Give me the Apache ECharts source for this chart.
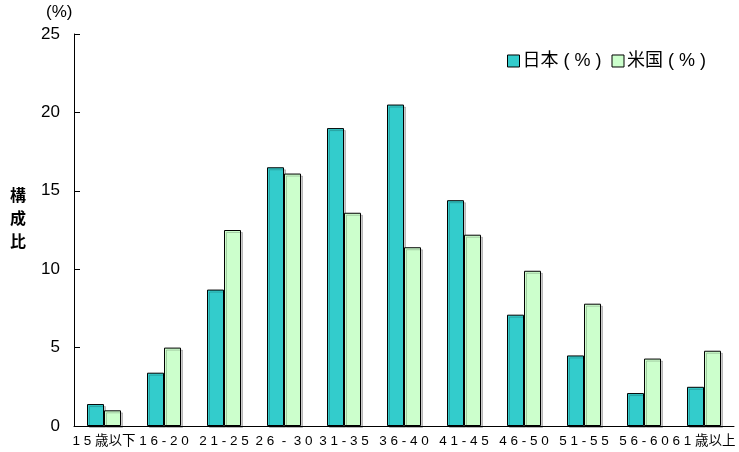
<!DOCTYPE html>
<html><head><meta charset="utf-8">
<script src="https://cdn.jsdelivr.net/npm/echarts@6/dist/echarts.min.js"></script>
<style>html,body{margin:0;padding:0;background:#fff}#c{width:739px;height:452px}</style>
</head><body><div id="c"></div>
<script>
const categories = ['1 5 歳以下', '1 6 - 2 0', '2 1 - 2 5', '2 6  -  3 0', '3 1 - 3 5', '3 6 - 4 0', '4 1 - 4 5', '4 6 - 5 0', '5 1 - 5 5', '5 6 - 6 0', '6 1 歳以上'];
const japan = [1.4, 3.4, 8.7, 16.5, 19.0, 20.5, 14.4, 7.1, 4.5, 2.1, 2.5];
const usa = [1.0, 5.0, 12.5, 16.1, 13.6, 11.4, 12.2, 9.9, 7.8, 4.3, 4.8];
const seriesNames = ['日本 ( % )', '米国 ( % )'];
const yTicks = [0, 5, 10, 15, 20, 25];

const font = 'Arial, "Liberation Sans", "Noto Sans CJK JP", sans-serif';
const chart = echarts.init(document.getElementById('c'));
const barStyle = c => ({color: c, borderColor: '#000', borderWidth: 1, shadowColor: 'rgba(0,0,0,0.2)', shadowOffsetX: 2, shadowOffsetY: 2, shadowBlur: 0});
chart.setOption({
  animation: false,
  grid: {left: 74, right: 5, top: 34, bottom: 26, containLabel: false},
  legend: {
    right: 28, top: 47, itemWidth: 12, itemHeight: 12, itemGap: 10, icon: 'rect',
    textStyle: {fontFamily: font, fontSize: 18, color: '#000', padding: [0, 0, 0, -2]},
    data: seriesNames.map(n => ({name: n, itemStyle: {borderColor: '#000', borderWidth: 1}}))
  },
  xAxis: {
    type: 'category', data: categories,
    axisLine: {lineStyle: {color: '#000', width: 1}},
    axisTick: {show: false},
    axisLabel: {interval: 0, color: '#000', fontFamily: font, fontSize: 13.5, margin: 9}
  },
  yAxis: {
    type: 'value', min: yTicks[0], max: yTicks[yTicks.length - 1], interval: 5,
    splitLine: {show: false},
    axisLine: {show: true, lineStyle: {color: '#000', width: 1}},
    axisTick: {show: true, inside: true, length: 6, lineStyle: {color: '#000'}},
    axisLabel: {color: '#000', fontFamily: font, fontSize: 17, margin: 14}
  },
  graphic: [
    {type: 'text', left: 46, top: 4, style: {text: '(%)', font: '17px ' + font, fill: '#000'}},
    {type: 'text', left: 10, top: 183, style: {text: '構\n成\n比', font: 'bold 16px "Noto Sans CJK JP", sans-serif', fill: '#000', lineHeight: 23}}
  ],
  series: [
    {name: seriesNames[0], type: 'bar', data: japan, barWidth: 17, barGap: '0%', itemStyle: barStyle('#33CCCC')},
    {name: seriesNames[1], type: 'bar', data: usa, barWidth: 17, barGap: '0%', itemStyle: barStyle('#CCFFCC')}
  ]
});
</script></body></html>
